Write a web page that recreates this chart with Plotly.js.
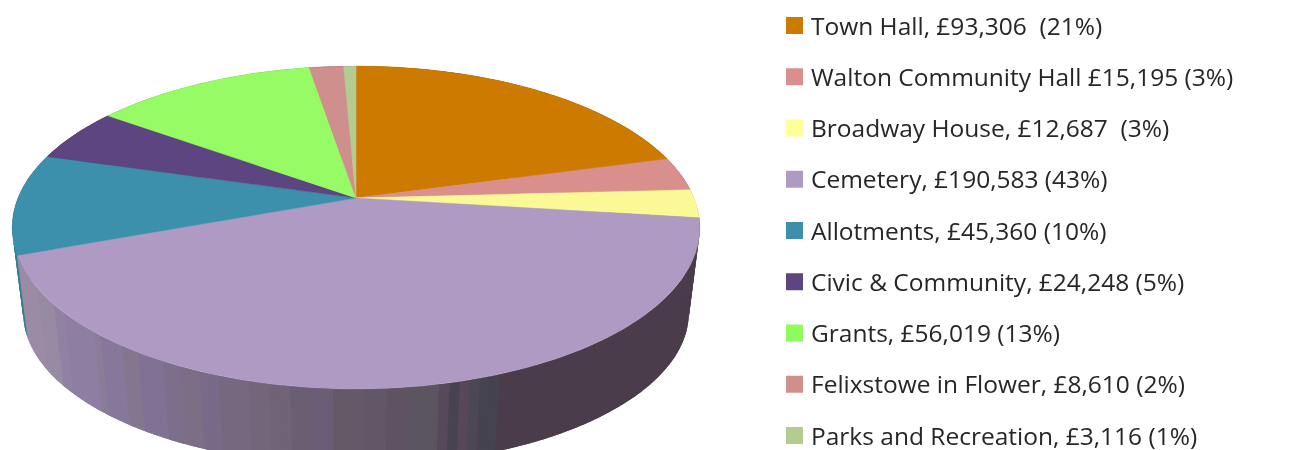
<!DOCTYPE html>
<html>
<head>
<meta charset="utf-8">
<script src="https://cdn.plot.ly/plotly-3.0.1.min.js"></script>
<style>html,body{margin:0;padding:0;background:#fff;overflow:hidden}#c{width:1289px;height:450px;filter:blur(0.7px)}</style>
</head>
<body>
<div id="c"></div>
<script>
var categories = ["Town Hall","Walton Community Hall","Broadway House","Cemetery","Allotments","Civic & Community","Grants","Felixstowe in Flower","Parks and Recreation"];
var values = [93306,15195,12687,190583,45360,24248,56019,8610,3116];
var labels = ["Town Hall, £93,306\u00a0 (21%)","Walton Community Hall £15,195 (3%)","Broadway House, £12,687\u00a0 (3%)","Cemetery, £190,583 (43%)","Allotments, £45,360 (10%)","Civic & Community, £24,248 (5%)","Grants, £56,019 (13%)","Felixstowe in Flower, £8,610 (2%)","Parks and Recreation, £3,116 (1%)"];
var topColors = ["#cc7a00","#d98f8c","#fbf995","#af9ac3","#3c90ab","#5c4580","#96fb64","#cf8f8c","#b4cc90"];
var legendColors = ["#cc7a00","#d98f8c","#ffff99","#af9ac3","#3c90ab","#5c4580","#8ffc5c","#d08f8c","#b4cc90"];
var wallColors = ["#9a6000","#a87070","#c0c070","#8a7a9a","#2f7f94","#483665","#74c04c","#a07070","#8ca070"];
// wall shade bands of the large front slice, read along the picture's x position
var bandEdge = [40,58,68,95,107,127,145,165,185,200,225,250,270,290,320,335,355,385,400,410,430,450,457,465,480,498,2000];
var bandShade = ["#9b8ba5","#978aa3","#8f82a3","#8e7fa2","#8b7d97","#85789a","#83768f","#807295","#7c6f8b","#7b6e85","#786a88","#75687f","#72667a","#6f6378","#6a5e72","#6a5d75","#655867","#625766","#5f5363","#5c5460","#5b5560","#57495a","#48444f","#564858","#4c4853","#45434f","#4a3c4a"];

var cx=356, cy=198, a=338, b=156, k=0.1827, botCy=313, topCy=227.5, sx=0.968, sy=0.947;
function rim(t){var d=1+k*Math.sin(t);return [cx+a*Math.cos(t)/d, cy-b*Math.sin(t)/d];}
function low(p){return [cx+sx*(p[0]-cx), botCy+sy*(p[1]-topCy)];}
function shadeAt(x){
  for(var i=0;i<bandEdge.length;i++){ if(x<=bandEdge[i]) return bandShade[i]; }
  return bandShade[bandShade.length-1];
}
var total=values.reduce(function(s,v){return s+v;},0);
var walls=[],tops=[],cum=0,step=Math.PI/120;
values.forEach(function(v,i){
  var t0=Math.PI/2-2*Math.PI*cum/total, t1=Math.PI/2-2*Math.PI*(cum+v)/total;
  cum+=v;
  var xs=[cx],ys=[cy],n=Math.max(2,Math.ceil((t0-t1)/0.01));
  for(var j=0;j<=n;j++){var p=rim(t0+(t1-t0)*j/n);xs.push(p[0]);ys.push(p[1]);}
  xs.push(cx);ys.push(cy);
  tops.push({type:'scatter',mode:'lines',x:xs,y:ys,fill:'toself',fillcolor:topColors[i],line:{color:topColors[i],width:0.5},hoverinfo:'skip',showlegend:false});
  var m=Math.max(1,Math.round((t0-t1)/step));
  for(var q=0;q<m;q++){
    var a0=t0+(t1-t0)*q/m,a1=t0+(t1-t0)*(q+1)/m,mid=(a0+a1)/2,P0=rim(a0),P1=rim(a1),L0=low(P0),L1=low(P1);
    var c=i===3?shadeAt(rim(mid)[0]):wallColors[i];
    // each band is widened a little under its neighbour so no seam shows between fills
    var cxM=rim(mid),wide=0.012,E0=rim(a0+wide),E1=rim(a1-wide),F0=low(E0),F1=low(E1);
    walls.push({z:cxM[1],t:{type:'scatter',mode:'none',x:[E0[0],P0[0],P1[0],E1[0],F1[0],L1[0],L0[0],F0[0],E0[0]],y:[E0[1],P0[1],P1[1],E1[1],F1[1],L1[1],L0[1],F0[1],E0[1]],fill:'toself',fillcolor:c,hoverinfo:'skip',showlegend:false}});
  }
});
walls.sort(function(p,q){return p.z-q.z;});
var legendY=categories.map(function(_,i){return 25.5+51.25*i;});
var legendTrace={type:'scatter',mode:'markers',x:categories.map(function(){return 794.5;}),y:legendY,marker:{symbol:'square',size:17,color:legendColors,line:{width:0}},hoverinfo:'skip',showlegend:false};
var annotations=labels.map(function(s,i){return {xref:'x',yref:'y',x:809,y:legendY[i]-0.5,text:s,showarrow:false,xanchor:'left',yanchor:'middle',font:{family:'"Open Sans", sans-serif',size:24.5,color:'#262626'}};});
var data=walls.map(function(w){return w.t;}).concat(tops,[legendTrace]);
Plotly.newPlot('c',data,{
  width:1289,height:450,margin:{l:0,r:0,t:0,b:0},paper_bgcolor:'#fff',plot_bgcolor:'#fff',showlegend:false,
  xaxis:{range:[0,1289],visible:false,fixedrange:true},
  yaxis:{range:[450,0],visible:false,fixedrange:true},
  annotations:annotations
},{displayModeBar:false,staticPlot:true});
</script>
</body>
</html>
